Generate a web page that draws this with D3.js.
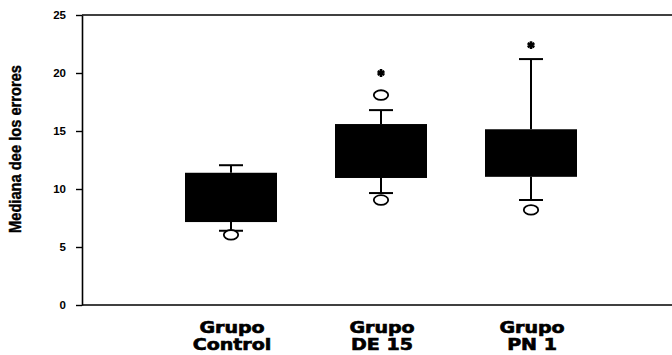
<!DOCTYPE html>
<html>
<head>
<meta charset="utf-8">
<script src="https://cdn.jsdelivr.net/npm/d3@7"></script>
<style>
  html, body { margin: 0; padding: 0; background: #fff; }
  svg { display: block; }
</style>
</head>
<body>
<svg id="chart" width="672" height="355"></svg>
<script>
// Grupos y estadísticos de la mediana de errores
const groups = [["Grupo", "Control"], ["Grupo", "DE 15"], ["Grupo", "PN 1"]];
const groupKeys = ["Control", "DE 15", "PN 1"];
const q1 = [7.15, 10.95, 11.05];
const q3 = [11.4, 15.6, 15.15];
const whiskerLow = [6.4, 9.65, 9.05];
const whiskerHigh = [12.05, 16.8, 21.2];
const outliers = [[6.05], [9.05, 18.1], [8.2]];
const extremes = [[], [20.0], [22.4]];
const yTicks = [0, 5, 10, 15, 20, 25];

const svg = d3.select("#chart");
const margin = { left: 82, top: 15, bottom: 305, right: 672 };

const y = d3.scaleLinear().domain([0, 25]).range([margin.bottom, margin.top]);
const x = d3.scalePoint().domain(groupKeys).range([81, 681]).padding(1);
const boxW = 92, capW = 24;

// Marco: línea superior e inferior
svg.append("line")
  .attr("x1", margin.left).attr("x2", margin.right)
  .attr("y1", y(25)).attr("y2", y(25))
  .attr("stroke", "#000").attr("stroke-width", 1.6);
svg.append("line")
  .attr("x1", margin.left).attr("x2", margin.right)
  .attr("y1", y(0)).attr("y2", y(0))
  .attr("stroke", "#000").attr("stroke-width", 1.6);

// Eje Y
const yAxis = d3.axisLeft(y).tickValues(yTicks).tickSize(6).tickPadding(10).tickSizeOuter(0);
const gy = svg.append("g").attr("transform", `translate(${margin.left},0)`).call(yAxis);
gy.select(".domain").attr("stroke", "#000").attr("stroke-width", 1.6);
gy.selectAll(".tick line").attr("stroke", "#000").attr("stroke-width", 1.4);
gy.selectAll(".tick text")
  .attr("fill", "#000")
  .style("font-family", "'Liberation Sans', Arial, sans-serif")
  .style("font-weight", "bold")
  .style("font-size", "11.5px");

// Título del eje Y
svg.append("text")
  .attr("transform", "translate(21,149) rotate(-90)")
  .attr("text-anchor", "middle")
  .attr("textLength", 168)
  .attr("lengthAdjust", "spacingAndGlyphs")
  .style("font-family", "'Liberation Sans', Arial, sans-serif")
  .style("font-weight", "bold")
  .style("font-size", "16px")
  .style("stroke", "#000")
  .style("stroke-width", "0.4px")
  .text("Mediana dee los errores");

// Cajas y bigotes
const boxes = svg.append("g").selectAll("g").data(groupKeys).join("g");
boxes.each(function(k, i) {
  const g = d3.select(this);
  const cx = x(k);
  // bigote superior
  g.append("line").attr("x1", cx).attr("x2", cx)
    .attr("y1", y(q3[i])).attr("y2", y(whiskerHigh[i]))
    .attr("stroke", "#000").attr("stroke-width", 2);
  g.append("line").attr("x1", cx - capW / 2).attr("x2", cx + capW / 2)
    .attr("y1", y(whiskerHigh[i])).attr("y2", y(whiskerHigh[i]))
    .attr("stroke", "#000").attr("stroke-width", 2);
  // bigote inferior
  g.append("line").attr("x1", cx).attr("x2", cx)
    .attr("y1", y(q1[i])).attr("y2", y(whiskerLow[i]))
    .attr("stroke", "#000").attr("stroke-width", 2);
  g.append("line").attr("x1", cx - capW / 2).attr("x2", cx + capW / 2)
    .attr("y1", y(whiskerLow[i])).attr("y2", y(whiskerLow[i]))
    .attr("stroke", "#000").attr("stroke-width", 2);
  // caja
  g.append("rect")
    .attr("x", cx - boxW / 2).attr("width", boxW)
    .attr("y", y(q3[i])).attr("height", y(q1[i]) - y(q3[i]))
    .attr("fill", "#000");
  // valores atípicos
  g.selectAll("ellipse").data(outliers[i]).join("ellipse")
    .attr("cx", cx).attr("cy", d => y(d))
    .attr("rx", 7.2).attr("ry", 4.8)
    .attr("fill", "#fff").attr("stroke", "#000").attr("stroke-width", 1.8);
  // valores extremos
  g.selectAll("path.ext").data(extremes[i]).join("path")
    .attr("class", "ext")
    .attr("transform", d => `translate(${cx},${y(d)})`)
    .attr("d", d3.symbol(d3.symbolAsterisk, 42))
    .attr("fill", "none").attr("stroke", "#000").attr("stroke-width", 2.6);
});

// Etiquetas del eje X (dos líneas por grupo, letra ancha)
const labels = svg.append("g").selectAll("g").data(groups).join("g")
  .attr("transform", (d, i) => `translate(${x(groupKeys[i]) + 1},0) scale(1.27,1)`)
  .style("font-family", "'DejaVu Sans', Verdana, sans-serif")
  .style("font-weight", "900")
  .style("font-size", "15px")
  .style("stroke", "#000")
  .style("stroke-width", "0.6px");
labels.append("text").attr("text-anchor", "middle").attr("y", 333).text(d => d[0]);
labels.append("text").attr("text-anchor", "middle").attr("y", 350.5).text(d => d[1]);
</script>
</body>
</html>
